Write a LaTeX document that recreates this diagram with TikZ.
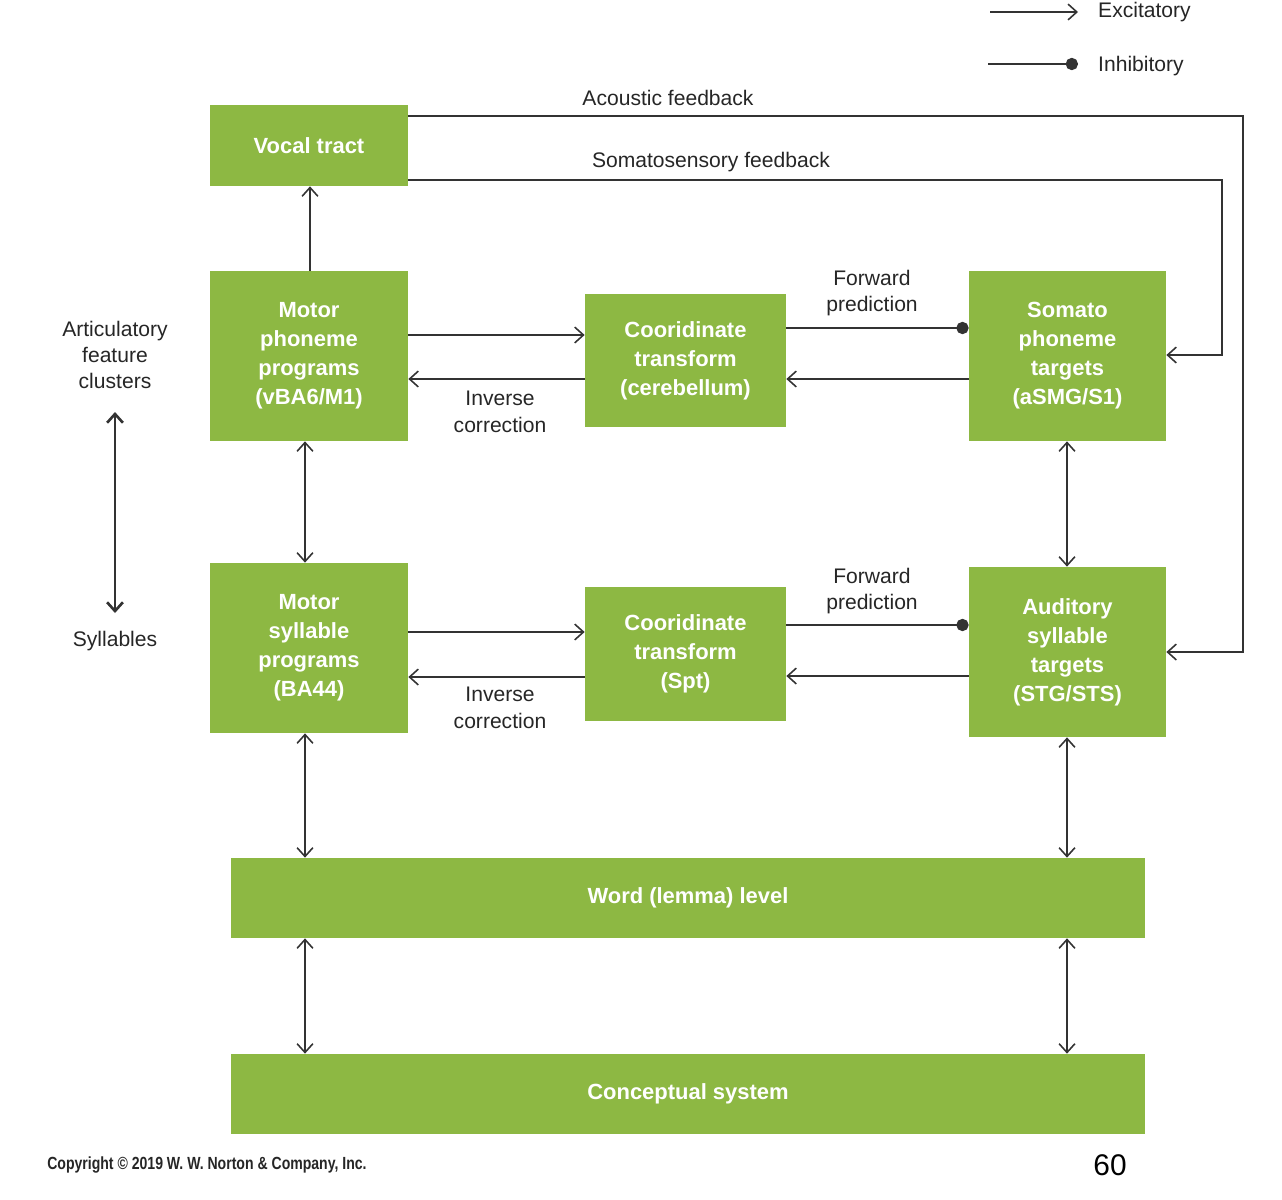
\documentclass[tikz,border=0pt]{standalone}
\usepackage{fontspec}
\setmainfont{Liberation Sans}
\usetikzlibrary{arrows.meta}
\definecolor{grn}{HTML}{8DB843}
\begin{document}
\begin{tikzpicture}[x=0.02cm,y=-0.02cm,
  box/.style={fill=grn,text=white,font=\fontsize{12.5}{16.5}\selectfont\bfseries,align=center,inner sep=0pt},
  lbl/.style={font=\fontsize{12}{15}\selectfont,text=black!85,align=center},
  con/.style={draw=black!80,line width=0.9pt},
  ar/.style={con,-{Straight Barb[length=5pt,width=9pt]}},
  dar/.style={con,{Straight Barb[length=5pt,width=9pt]}-{Straight Barb[length=5pt,width=9pt]}},
  inh/.style={con,-{Circle[length=7pt]}}]
\useasboundingbox (0,0) rectangle (1282,1200);
\newcommand{\bx}[6]{\node[box,minimum width=(#4-#2)*0.02cm,minimum height=(#5-#3)*0.02cm] (#1) at ({(#2+#4)/2},{(#3+#5)/2}) {#6};}
\bx{vt}{210}{105}{408}{186}{Vocal tract}
\bx{mp}{210}{271}{408}{441}{Motor\\phoneme\\programs\\(vBA6/M1)}
\bx{c1}{585}{294}{786}{427}{Cooridinate\\transform\\(cerebellum)}
\bx{sp}{969}{271}{1166}{441}{Somato\\phoneme\\targets\\(aSMG/S1)}
\bx{ms}{210}{563}{408}{733}{Motor\\syllable\\programs\\(BA44)}
\bx{c2}{585}{587}{786}{721}{Cooridinate\\transform\\(Spt)}
\bx{as}{969}{567}{1166}{737}{Auditory\\syllable\\targets\\(STG/STS)}
\bx{wl}{231}{858}{1145}{938}{Word (lemma) level}
\bx{cs}{231}{1054}{1145}{1134}{Conceptual system}
% feedback
\coordinate (k1) at (1243,116); \coordinate (k2) at (1243,652);
\draw[ar] (vt.east |- 0,116) -- (k1) -- (k2) -- (as.east |- k2);
\coordinate (k3) at (1222,180); \coordinate (k4) at (1222,355);
\draw[ar] (vt.east |- 0,180) -- (k3) -- (k4) -- (sp.east |- k4);
\node[lbl,anchor=south] (af) at (668,112) {Acoustic feedback};
\node[lbl,anchor=south] (sf) at (711,178) {Somatosensory feedback};
\draw[ar] (mp.north -| 310,0) -- (vt.south -| 310,0);
% upper row
\draw[ar] (mp.east |- 0,335) -- (c1.west |- 0,335);
\draw[ar] (c1.west |- 0,379) -- (mp.east |- 0,379);
\draw[inh] (c1.east |- 0,328) -- (sp.west |- 0,328);
\draw[ar] (sp.west |- 0,379) -- (c1.east |- 0,379);
\node[lbl] (ic1) at (500,412) {Inverse\\correction};
\node[lbl] (fp1) at (872,293) {Forward\\prediction};
% lower row
\draw[ar] (ms.east |- 0,632) -- (c2.west |- 0,632);
\draw[ar] (c2.west |- 0,677) -- (ms.east |- 0,677);
\draw[inh] (c2.east |- 0,625) -- (as.west |- 0,625);
\draw[ar] (as.west |- 0,676) -- (c2.east |- 0,676);
\node[lbl] (ic2) at (500,708) {Inverse\\correction};
\node[lbl] (fp2) at (872,591) {Forward\\prediction};
% verticals
\draw[dar] (mp.south -| 305,0) -- (ms.north -| 305,0);
\draw[dar] (sp.south -| 1067,0) -- (as.north -| 1067,0);
\draw[dar] (ms.south -| 305,0) -- (wl.north -| 305,0);
\draw[dar] (as.south -| 1067,0) -- (wl.north -| 1067,0);
\draw[dar] (wl.south -| 305,0) -- (cs.north -| 305,0);
\draw[dar] (wl.south -| 1067,0) -- (cs.north -| 1067,0);
% left
\node[lbl] (afc) at (115,355) {Articulatory\\feature\\clusters};
\node[lbl] (syl) at (115,641) {Syllables};
\draw[dar,line width=1.5pt] (115,412) -- (115,613);
% legend
\coordinate (l1) at (990,12); \coordinate (l2) at (1078,12);
\draw[ar] (l1) -- (l2);
\node[lbl,anchor=west] (ex) at (1092,12) {Excitatory};
\coordinate (l3) at (988,64); \coordinate (l4) at (1078,64);
\draw[inh] (l3) -- (l4);
\node[lbl,anchor=west] (in) at (1092,66) {Inhibitory};
% footer
\node[anchor=west,inner sep=0pt,font=\fontsize{10}{12}\selectfont\bfseries,xscale=0.8,text=black!85] (cp) at (47,1165) {Copyright © 2019 W. W. Norton \& Company, Inc.};
\node[font=\fontsize{17}{20}\selectfont,text=black] (pg) at (1110,1165) {60};
\end{tikzpicture}
\end{document}
